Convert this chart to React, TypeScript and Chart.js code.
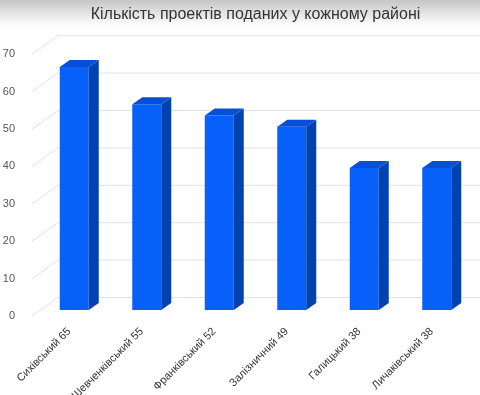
import React, { useEffect, useRef } from "react";
import { Chart, registerables } from "chart.js";

Chart.register(...registerables);

const categories = [
  "Сихівський 65",
  "Шевченківський 55",
  "Франківський 52",
  "Залізничний 49",
  "Галицький 38",
  "Личаківський 38",
];
const projects = [65, 55, 52, 49, 38, 38];
const yTicks = [0, 10, 20, 30, 40, 50, 60, 70];
const chartTitle = "Кількість проектів поданих у кожному районі";

const FRONT = "#0760f7";
const SIDE = "#0042b0";
const TOP = "#064fd6";
const GRID = "#e2e2e2";

const threeD = {
  id: "threeD",
  beforeDatasetsDraw(chart: any) {
    const { ctx, scales, chartArea } = chart;
    const y = scales.y;
    ctx.save();
    ctx.strokeStyle = GRID;
    ctx.lineWidth = 1;
    for (const v of yTicks) {
      const py = y.getPixelForValue(v);
      ctx.beginPath();
      ctx.moveTo(chartArea.left - 6, py + 6);
      ctx.lineTo(chartArea.left + 20, py - 12.5);
      ctx.lineTo(chart.width, py - 12.5);
      ctx.stroke();
    }
    ctx.restore();
  },
  afterDatasetsDraw(chart: any) {
    const { ctx } = chart;
    const meta = chart.getDatasetMeta(0);
    const dx = 10;
    const dy = -7;
    ctx.save();
    for (const bar of meta.data) {
      const p = bar.getProps(["x", "y", "base", "width"], true);
      const l = p.x - p.width / 2;
      const r = p.x + p.width / 2;
      const t = p.y;
      const b = p.base;
      ctx.fillStyle = SIDE;
      ctx.beginPath();
      ctx.moveTo(r, t);
      ctx.lineTo(r + dx, t + dy);
      ctx.lineTo(r + dx, b + dy);
      ctx.lineTo(r, b);
      ctx.closePath();
      ctx.fill();
      ctx.fillStyle = TOP;
      ctx.beginPath();
      ctx.moveTo(l, t);
      ctx.lineTo(l + dx, t + dy);
      ctx.lineTo(r + dx, t + dy);
      ctx.lineTo(r, t);
      ctx.closePath();
      ctx.fill();
    }
    ctx.restore();
  },
};

export default function App() {
  const ref = useRef<HTMLCanvasElement>(null);
  useEffect(() => {
    document.body.style.margin = "0";
    const chart = new Chart(ref.current as HTMLCanvasElement, {
      type: "bar",
      data: {
        labels: categories,
        datasets: [
          {
            data: projects,
            backgroundColor: FRONT,
            borderWidth: 0,
            barPercentage: 0.4,
            categoryPercentage: 1,
          },
        ],
      },
      options: {
        responsive: false,
        animation: false,
        layout: { padding: { left: 0, right: 7, top: 0, bottom: 0 } },
        plugins: {
          legend: { display: false },
          tooltip: { enabled: false },
          title: {
            display: true,
            fullSize: false,
            text: chartTitle,
            color: "#333",
            font: { family: "Liberation Sans", size: 16, weight: "normal" },
            padding: { top: 5, bottom: 24 },
          },
        },
        scales: {
          x: {
            grid: { display: false },
            border: { display: false },
            ticks: {
              minRotation: 45,
              maxRotation: 45,
              color: "#333",
              font: { family: "Liberation Sans", size: 11 },
              padding: 7,
              labelOffset: -5,
            },
            afterFit(s: any) {
              s.height = 85;
            },
          },
          y: {
            min: 0,
            max: 70,
            grid: { display: false },
            border: { display: false },
            ticks: {
              stepSize: 10,
              color: "#555",
              font: { family: "Liberation Sans", size: 11 },
              padding: 15,
              labelOffset: 6,
            },
            afterFit(s: any) {
              s.width = 38;
            },
          },
        },
      },
      plugins: [threeD],
    });
    return () => chart.destroy();
  }, []);
  return (
    <div
      style={{
        width: 480,
        height: 395,
        background: "linear-gradient(to bottom, #c6c6c6 0px, #ffffff 26px)",
      }}
    >
      <canvas ref={ref} width={480} height={395} style={{ display: "block" }} />
    </div>
  );
}
